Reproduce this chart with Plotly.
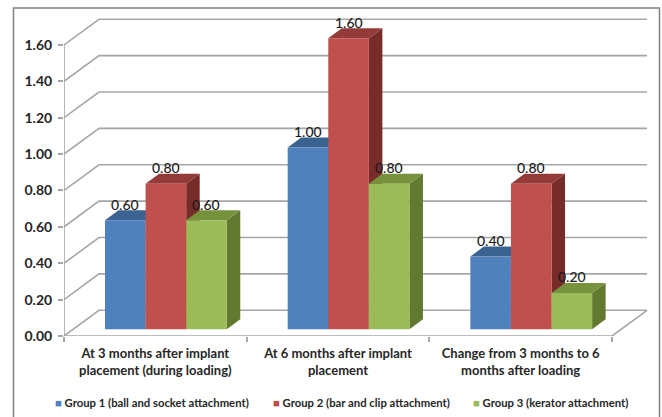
import plotly.graph_objects as go

categories = ["At 3 months after implant<br>placement (during loading)",
              "At 6 months after implant<br>placement",
              "Change from 3 months to 6<br>months after loading"]
group_names = ["Group 1 (ball and socket attachment)",
               "Group 2 (bar and clip attachment)",
               "Group 3 (kerator attachment)"]
group1 = [0.60, 1.00, 0.40]
group2 = [0.80, 1.60, 0.80]
group3 = [0.60, 0.80, 0.20]
y_ticks = [0.0, 0.2, 0.4, 0.6, 0.8, 1.0, 1.2, 1.4, 1.6]

front = ["#4F81BD", "#C0504D", "#9BBB59"]
top = ["#3A6391", "#943B39", "#76923C"]
side = ["#2F5280", "#772C2A", "#617A30"]
GRID = "#A6A6A6"
INK = "#262626"
FONT = "Lato"

W, H = 662, 417
L, R, T, B = 64, 12, 8, 81
px_cat = 182.67
px_val = 181.9
xmax = (W - L - R) / px_cat
ymax = (H - T - B) / px_val

wall_dx, wall_dy = 35 / px_cat, 25.7 / px_val
bar_start, bar_w = 0.2245, 0.2222
bar_base = 6.7 / px_val
depth_dx, depth_dy = 13.5 / px_cat, 10 / px_val

fig = go.Figure()

# walls and floor
gx, gy = [], []
for v in y_ticks:
    gx += [0, wall_dx, len(categories) + wall_dx, None]
    gy += [v, v + wall_dy, v + wall_dy, None]
gx += [0, 0, None, 0, len(categories), len(categories) + wall_dx]
gy += [0, y_ticks[-1], None, 0, 0, wall_dy]
fig.add_trace(go.Scatter(x=gx, y=gy, mode="lines", hoverinfo="skip",
                         line=dict(color=GRID, width=1.6), showlegend=False))

series = [group1, group2, group3]

# depth faces, painted left to right
for c in range(len(categories)):
    for s, vals in enumerate(series):
        x0 = c + bar_start + s * bar_w
        x1 = x0 + bar_w
        v = vals[c] + bar_base
        b = bar_base
        fig.add_trace(go.Scatter(
            x=[x1, x1 + depth_dx, x1 + depth_dx, x1, x1],
            y=[b, b + depth_dy, v + depth_dy, v, b],
            mode="lines", fill="toself", fillcolor=side[s],
            line=dict(width=0), hoverinfo="skip", showlegend=False))
        fig.add_trace(go.Scatter(
            x=[x0, x1, x1 + depth_dx, x0 + depth_dx, x0],
            y=[v, v, v + depth_dy, v + depth_dy, v],
            mode="lines", fill="toself", fillcolor=top[s],
            line=dict(width=0), hoverinfo="skip", showlegend=False))

# front faces on an overlaid axis pair so they cover the faces behind them
for s, vals in enumerate(series):
    fig.add_trace(go.Bar(
        x=[c + bar_start + (s + 0.5) * bar_w for c in range(len(categories))],
        y=vals, base=[bar_base] * len(vals), width=bar_w,
        marker=dict(color=front[s], line=dict(width=0)),
        name=group_names[s], showlegend=False,
        xaxis="x2", yaxis="y2"))
    for c, v in enumerate(vals):
        fig.add_annotation(
            x=c + bar_start + (s + 0.5) * bar_w, y=v + bar_base,
            xref="x", yref="y", text=f"{v:.2f}", showarrow=False,
            yanchor="middle", yshift=16,
            font=dict(family=FONT, size=14, color="#1a1a1a", weight=500))

fig.update_layout(
    width=W, height=H, margin=dict(l=L, r=R, t=T, b=B, autoexpand=False),
    paper_bgcolor="white", plot_bgcolor="white", showlegend=False,
    barmode="overlay",
    xaxis=dict(range=[0, xmax], showgrid=False, zeroline=False, showline=False,
               tickmode="array", tickvals=[c + 0.5 for c in range(len(categories))],
               ticktext=categories, ticks="", ticklabelstandoff=8,
               tickfont=dict(family=FONT, size=13, color=INK, weight=700),
               minor=dict(tickmode="array", tickvals=list(range(len(categories) + 1)),
                          ticks="outside", ticklen=5, tickcolor=GRID, tickwidth=1.5)),
    yaxis=dict(range=[0, ymax], showgrid=False, zeroline=False, showline=False,
               tickmode="array", tickvals=y_ticks,
               ticktext=[f"{v:.2f}" for v in y_ticks],
               ticks="outside", ticklen=5, tickcolor=GRID, tickwidth=1.5,
               ticklabelstandoff=3,
               tickfont=dict(family=FONT, size=14, color=INK, weight=700)),
    xaxis2=dict(range=[0, xmax], overlaying="x", visible=False),
    yaxis2=dict(range=[0, ymax], overlaying="y", visible=False),
)

# frame
pw, ph = W - L - R, H - T - B
fig.add_shape(type="rect", xref="paper", yref="paper", layer="below",
              x0=(13.5 - L) / pw, x1=(659.5 - L) / pw,
              y0=(H - B - 425) / ph, y1=(H - B - 8) / ph,
              line=dict(color="#7F7F7F", width=1.5))

# legend row
legend_px = [53, 270.5, 471]
for s, name in enumerate(group_names):
    fig.add_annotation(
        xref="paper", yref="paper", x=(legend_px[s] - L) / pw, y=(H - B - 402) / ph,
        xanchor="left", yanchor="middle", showarrow=False,
        text=f"<span style='color:{front[s]}'>■</span> {name}",
        font=dict(family=FONT, size=11.3, color=INK, weight=700))

fig.write_html("out.html", post_script="document.body.style.margin='0';",
               config=dict(displayModeBar=False))
